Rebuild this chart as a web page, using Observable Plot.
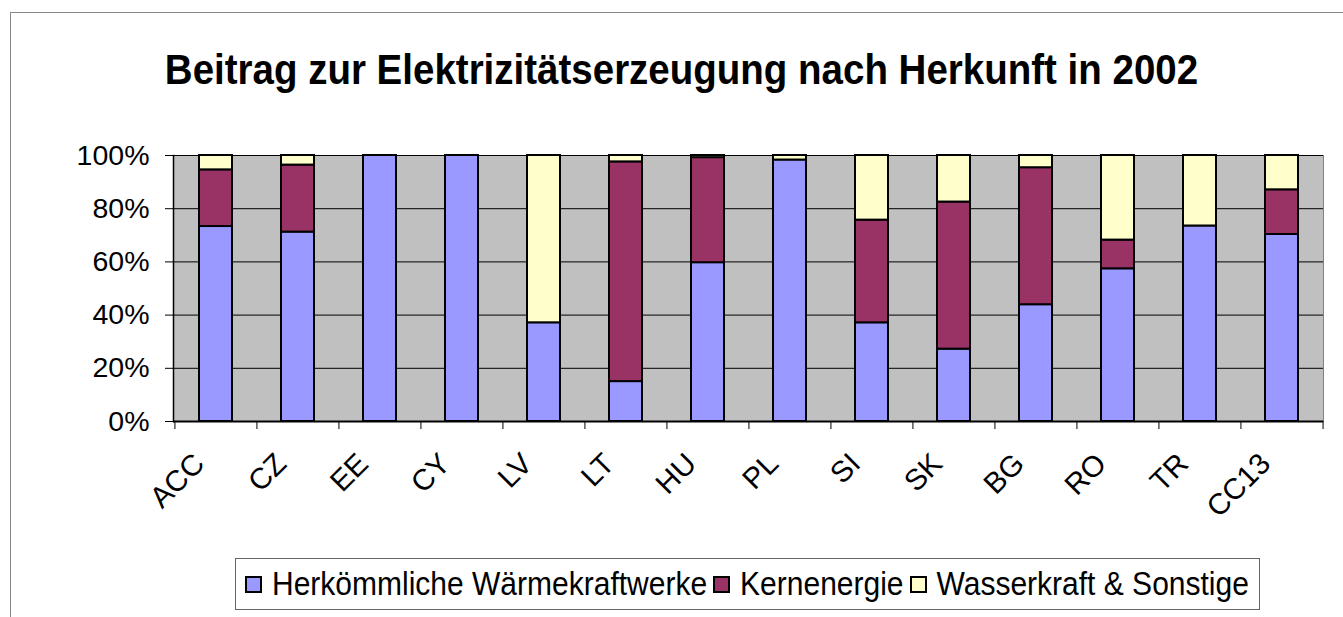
<!DOCTYPE html>
<html><head><meta charset="utf-8">
<script src="https://cdn.jsdelivr.net/npm/d3@7"></script>
<script src="https://cdn.jsdelivr.net/npm/@observablehq/plot@0.6"></script>
<style>
body{margin:0;background:#fff;font-family:"Liberation Sans",Arial,sans-serif;}
#wrap{position:relative;width:1343px;height:617px;overflow:hidden;}
#frame{position:absolute;left:10px;top:12px;width:1400px;height:700px;border:1px solid #888;box-sizing:border-box}
#title{position:absolute;left:0;width:1363px;top:47.5px;text-align:center;font-weight:bold;font-size:38.5px;line-height:1;color:#000;white-space:nowrap;transform:scaleY(1.12);transform-origin:top}
#chart{position:absolute;left:0;top:0}
#legend{position:absolute;left:235px;top:558px;width:1025px;height:52px;border:1px solid #666;box-sizing:border-box;display:flex;align-items:center;padding-left:9px;font-size:30px;white-space:nowrap;background:#fff}
.item{display:flex;align-items:center;margin-right:6px}
.sw{width:13px;height:13px;border:2px solid #000;margin-right:10px;display:inline-block}
.lt{display:inline-block;transform:scaleY(1.1)}
</style></head>
<body>
<div id="wrap">
<div id="frame"></div>
<div id="chart"></div>
<div id="title">Beitrag zur Elektrizitätserzeugung nach Herkunft in 2002</div>
<div id="legend"></div>
</div>
<script>
const categories = ["ACC","CZ","EE","CY","LV","LT","HU","PL","SI","SK","BG","RO","TR","CC13"];
const sources = ["Herkömmliche Wärmekraftwerke","Kernenergie","Wasserkraft & Sonstige"];
const colors = ["#9999FF","#993366","#FFFFCC"];
const thermal = [73.3,71.2,100,100,37.1,15.0,59.7,98.3,37.1,27.2,43.9,57.4,73.5,70.3];
const nuclear = [21.3,25.2,0,0,0,82.6,39.5,0,38.6,55.3,51.5,10.8,0,16.8];
const hydroOther = [5.4,3.6,0,0,62.9,2.4,0.8,1.7,24.3,17.5,4.6,31.8,26.5,12.9];
const yTicks = [0,20,40,60,80,100];

const series = [thermal, nuclear, hydroOther];
const data = [];
categories.forEach((c, i) => {
  series.forEach((s, j) => {
    if (s[i] > 0) data.push({country: c, source: sources[j], value: s[i] / 100});
  });
});

const W = 1343, H = 617;
const mL = 173, mR = 20, mT = 155, mB = 196;
const step = (W - mL - mR) / categories.length;

const plot = Plot.plot({
  width: W, height: H,
  marginLeft: mL, marginRight: mR, marginTop: mT, marginBottom: mB,
  style: {fontFamily: "'Liberation Sans', Arial, sans-serif", background: "transparent", color: "#000"},
  x: {domain: categories, paddingInner: 0.6, paddingOuter: 0.3, axis: null},
  y: {domain: [0, 1], axis: null},
  color: {domain: sources, range: colors},
  marks: [
    Plot.frame({fill: "#C0C0C0", stroke: "#808080"}),
    Plot.ruleY(yTicks.slice(1).map(d => d / 100), {stroke: "#000", strokeWidth: 1}),
    Plot.barY(data, {x: "country", y: "value", fill: "source", stroke: "#000", strokeWidth: 2, order: sources}),
    Plot.frame({anchor: "left", stroke: "#000", strokeWidth: 1.5}),
    Plot.axisY({ticks: yTicks.map(d => d / 100), tickFormat: d => `${Math.round(d * 100)}%`, tickSize: 8, tickPadding: 16, fontSize: 28.5, label: null}),
    Plot.ruleY([0], {stroke: "#000", strokeWidth: 2}),
    Plot.ruleX(categories, {x: d => d, y1: 0, y2: 0, dx: -step / 2, insetBottom: -8, stroke: "#000"}),
    Plot.ruleX(categories.slice(-1), {x: d => d, y1: 0, y2: 0, dx: step / 2, insetBottom: -8, stroke: "#000"}),
    Plot.text(categories, {x: d => d, y: 0, text: d => d, dx: -10, dy: 44, rotate: -45, textAnchor: "end", lineAnchor: "bottom", fontSize: 29.5, fill: "#000"})
  ]
});
document.getElementById("chart").appendChild(plot);

const legend = document.getElementById("legend");
sources.forEach((s, i) => {
  const it = document.createElement("span");
  it.className = "item";
  const sw = document.createElement("span");
  sw.className = "sw";
  sw.style.background = colors[i];
  it.appendChild(sw);
  const t = document.createElement("span");
  t.className = "lt";
  t.textContent = s;
  it.appendChild(t);
  legend.appendChild(it);
});
</script>
</body></html>
